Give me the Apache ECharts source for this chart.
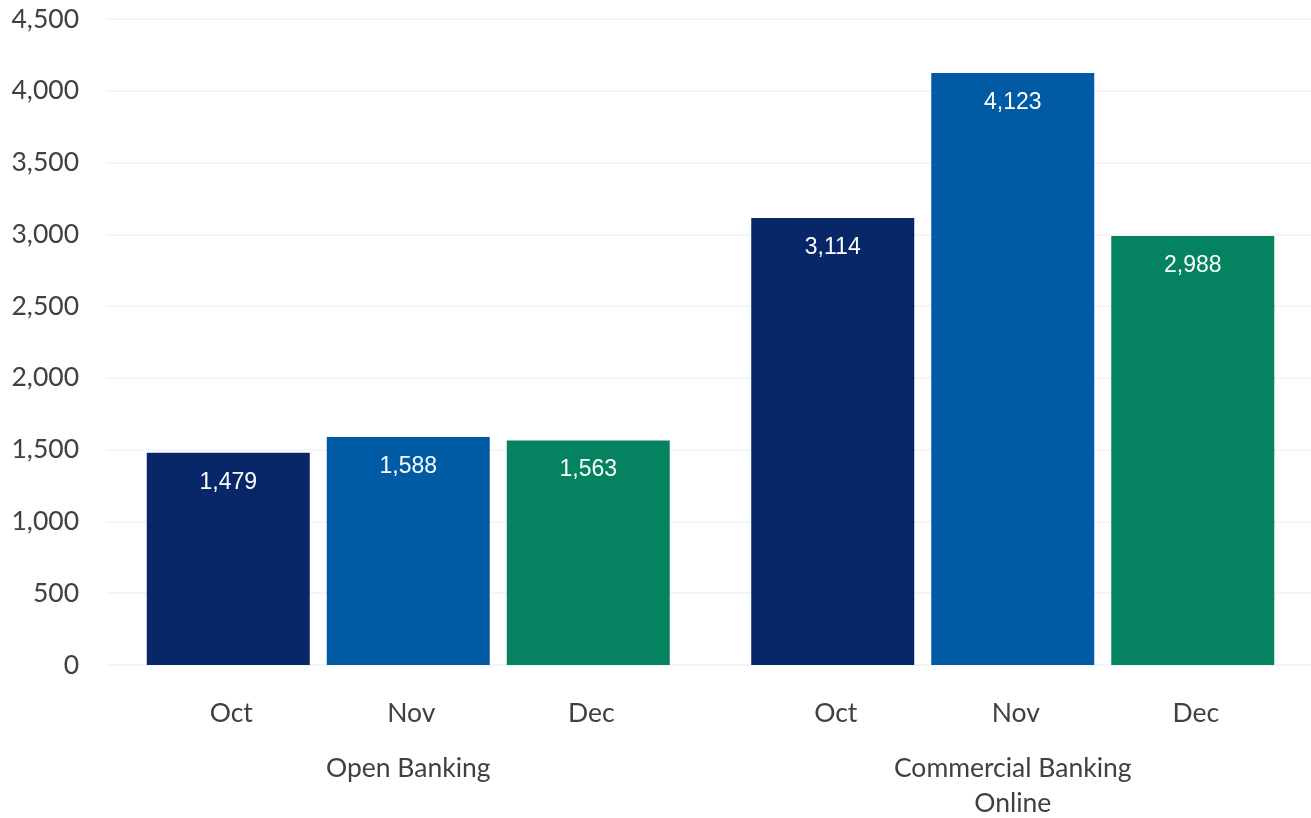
<!DOCTYPE html>
<html>
<head>
<meta charset="utf-8">
<script src="https://cdn.jsdelivr.net/npm/echarts@6/dist/echarts.min.js"></script>
<style>html,body{margin:0;padding:0;background:#fff}#c{width:1311px;height:818px}</style>
</head>
<body>
<div id="c"></div>
<script>
const groups = ['Open Banking', 'Commercial Banking\nOnline'];
const months = ['Oct', 'Nov', 'Dec'];
const octValues = [1479, 3114];
const novValues = [1588, 4123];
const decValues = [1563, 2988];
const yTicks = { min: 0, max: 4500, interval: 500 };

const colors = ['#072768', '#005BA4', '#058360'];
const valueArrays = [octValues, novValues, decValues];
const fontCal = 'Lato, Carlito, sans-serif';

const series = [];
months.forEach((m, i) => {
  // month label carrier (zero-height bar at the base of the stack)
  series.push({
    type: 'bar', name: m + ' label', stack: m,
    data: groups.map(() => 0),
    itemStyle: { color: 'rgba(0,0,0,0)' },
    label: {
      show: true, position: 'bottom', distance: 35, offset: [3, 0],
      formatter: () => m,
      color: '#404040', fontSize: 26.5, fontFamily: fontCal
    },
    barWidth: 163, barGap: '10.43%', silent: true
  });
  series.push({
    type: 'bar', name: m, stack: m,
    data: valueArrays[i],
    itemStyle: { color: colors[i] },
    label: {
      show: true, position: 'insideTop', distance: 18,
      formatter: p => p.value.toLocaleString('en-US'),
      color: '#ffffff', fontSize: 23, fontFamily: 'Liberation Sans, Arial, sans-serif'
    },
    barWidth: 163, barGap: '10.43%'
  });
});

const chart = echarts.init(document.getElementById('c'));
chart.setOption({
  animation: false,
  backgroundColor: '#ffffff',
  grid: { left: 106, width: 1209, top: 19, bottom: 153, containLabel: false, outerBoundsMode: 'none' },
  xAxis: {
    type: 'category', data: groups,
    axisLine: { show: false }, axisTick: { show: false },
    axisLabel: { color: '#404040', fontSize: 26.5, fontFamily: fontCal, lineHeight: 35, margin: 86, interval: 0 }
  },
  yAxis: {
    type: 'value', min: yTicks.min, max: yTicks.max, interval: yTicks.interval,
    axisLine: { show: false }, axisTick: { show: false },
    splitLine: { lineStyle: { color: '#EEF2F7', width: 1.5 } },
    axisLabel: {
      color: '#404040', fontSize: 26.5, fontFamily: fontCal, margin: 27,
      formatter: v => v.toLocaleString('en-US')
    }
  },
  series: series
});
</script>
</body>
</html>
